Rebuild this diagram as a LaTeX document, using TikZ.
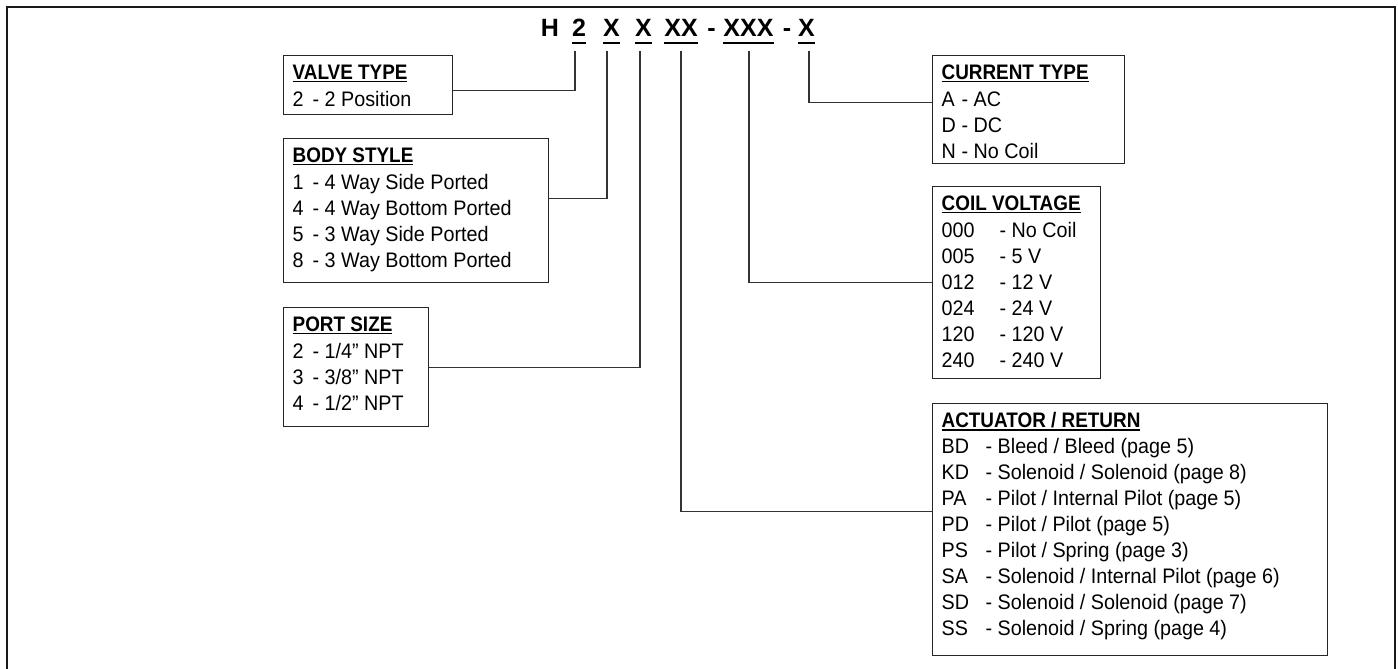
\documentclass[tikz,border=0pt]{standalone}
\usepackage{fontspec}
\setmainfont{Liberation Sans}[FakeStretch=0.94]
\newfontfamily\tfont{Liberation Sans}[FakeStretch=0.9]
\newfontfamily\bigfont{Liberation Sans}
\newcommand\myul[2][-3pt]{\leavevmode\setbox0=\hbox{#2}\rlap{\rule[#1]{\wd0}{1.5pt}}\box0}
\newlength\cw
\newcommand\tit[1]{{\tfont\bfseries\myul{#1}}}
\newcommand\cd[1]{\makebox[\cw][l]{#1}}
\newcommand\boxtext[4]{\parbox[c][#2pt][t]{#1pt}{\setlength\cw{#3pt}\raggedright\leftskip=9pt\relax\vspace*{9pt}\leavevmode #4}}
\newcommand\bigch[1]{{\leavevmode\bigfont\bfseries\fontsize{25}{30}\selectfont\setbox0=\hbox{#1}\rlap{\rule[-7pt]{\wd0}{2pt}}\box0}}
\tikzset{
  box/.style={draw=black!85, line width=1.3pt, inner sep=0pt, anchor=north west,
    font=\fontsize{21}{26}\selectfont},
  wire/.style={draw=black!80, line width=1.2pt},
  ttl/.style={anchor=base, inner sep=0pt, font=\bigfont\bfseries\fontsize{25}{30}\selectfont},
}
\begin{document}
\begin{tikzpicture}[x=1pt,y=-1pt]
\useasboundingbox (0,0) rectangle (1398,669);
\draw[line width=2pt, black!90] (7,7) rectangle (1395,675);

% code title
\node[ttl] (tH) at (550,37) {H};
\node[ttl] (t2) at (579,37) {\bigch{2}};
\node[ttl] (tX1) at (611.5,37) {\bigch{X}};
\node[ttl] (tX2) at (643.5,37) {\bigch{X}};
\node[ttl] (tXX) at (681,37) {\bigch{XX}};
\node[ttl] (td1) at (711.5,37) {-};
\node[ttl] (tXXX) at (748.5,37) {\bigch{XXX}};
\node[ttl] (td2) at (787,37) {-};
\node[ttl] (tX3) at (806.5,37) {\bigch{X}};

\coordinate (k1) at (575,51);
\coordinate (k2) at (607,51);
\coordinate (k3) at (640,51);
\coordinate (k4) at (681,51);
\coordinate (k5) at (749,51);
\coordinate (k6) at (809,51);

% boxes
\node[box] (valve) at (283,55) {\boxtext{169}{59}{20}{\tit{VALVE TYPE}\\[1.5pt]\cd{2}- 2 Position}};
\node[box] (body) at (283,138) {\boxtext{265}{144}{20}{\tit{BODY STYLE}\\[1.5pt]\cd{1}- 4 Way Side Ported\\\cd{4}- 4 Way Bottom Ported\\\cd{5}- 3 Way Side Ported\\\cd{8}- 3 Way Bottom Ported}};
\node[box] (port) at (283,307) {\boxtext{145}{119}{20}{\tit{PORT SIZE}\\[1.5pt]\cd{2}- 1/4” NPT\\\cd{3}- 3/8” NPT\\\cd{4}- 1/2” NPT}};
\node[box] (current) at (932,55) {\boxtext{192}{108}{20}{\tit{CURRENT TYPE}\\[1.5pt]\cd{A}- AC\\\cd{D}- DC\\\cd{N}- No Coil}};
\node[box] (coil) at (932,186) {\boxtext{168}{192}{58}{\tit{COIL VOLTAGE}\\[1.5pt]\cd{000}- No Coil\\\cd{005}- 5 V\\\cd{012}- 12 V\\\cd{024}- 24 V\\\cd{120}- 120 V\\\cd{240}- 240 V}};
\node[box] (act) at (932,403) {\boxtext{395}{252}{44}{\tit{ACTUATOR / RETURN}\\[0pt]\cd{BD}- Bleed / Bleed (page 5)\\\cd{KD}- Solenoid / Solenoid (page 8)\\\cd{PA}- Pilot / Internal Pilot (page 5)\\\cd{PD}- Pilot / Pilot (page 5)\\\cd{PS}- Pilot / Spring (page 3)\\\cd{SA}- Solenoid / Internal Pilot (page 6)\\\cd{SD}- Solenoid / Solenoid (page 7)\\\cd{SS}- Solenoid / Spring (page 4)}};

% connectors
\draw[wire] (k1) |- ([yshift=-5.5pt]valve.east);
\draw[wire] (k2) |- ([yshift=12pt]body.east);
\draw[wire] (k3) |- (port.east);
\draw[wire] (k4) |- ([yshift=18pt]act.west);
\draw[wire] (k5) |- (coil.west);
\draw[wire] (k6) |- ([yshift=7pt]current.west);
\end{tikzpicture}
\end{document}
